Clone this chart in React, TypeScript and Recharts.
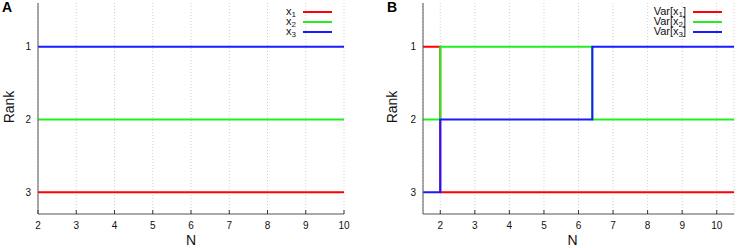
import React from 'react';
import { LineChart, Line, XAxis, YAxis, CartesianGrid } from 'recharts';

// Panel A: ranks of the means
const nA = [2, 10];
const rankX1 = [3, 3];
const rankX2 = [2, 2];
const rankX3 = [1, 1];

// Panel B: ranks of the variances
const nB = [1.5, 2, 6.4, 10.5];
const rankVarX1 = [1, 3, 3, 3];
const rankVarX2 = [2, 1, 2, 2];
const rankVarX3 = [3, 2, 1, 1];

const nTicks = [2, 3, 4, 5, 6, 7, 8, 9, 10];
const rankTicks = [1, 2, 3];
const seriesKeys = ['s1', 's2', 's3'];
const seriesColors = ['#ff0000', '#22ee22', '#1a1aff'];
const subscripts = ['1', '2', '3'];

const FONT = '"Liberation Sans", Arial, Helvetica, sans-serif';
const FRAME = '#555';

const rowsA = nA.map((n, i) => ({ n, s1: rankX1[i], s2: rankX2[i], s3: rankX3[i] }));
const rowsB = nB.map((n, i) => ({ n, s1: rankVarX1[i], s2: rankVarX2[i], s3: rankVarX3[i] }));

interface PanelProps {
  rows: any[];
  domain: [number, number];
  yWidth: number;
  right: number;
  rankX: number;
  nDx: number;
}

function Panel({ rows, domain, yWidth, right, rankX, nDx }: PanelProps) {
  return (
    <LineChart
      width={368}
      height={248}
      data={rows}
      margin={{ top: 3, right, bottom: 0, left: 0 }}
      style={{ fontFamily: FONT }}
    >
      <CartesianGrid horizontal={false} stroke="#d0d0d0" strokeDasharray="1 2" />
      <XAxis
        dataKey="n"
        type="number"
        domain={domain}
        ticks={nTicks}
        allowDataOverflow
        height={34}
        stroke={FRAME}
        tickSize={-4}
        tickMargin={12}
        tickLine={{ stroke: '#333' }}
        tick={{ fontSize: 10, fill: '#111', fontFamily: FONT }}
        label={{
          content: ({ viewBox }: any) => (
            <text
              x={viewBox.x + viewBox.width / 2 + nDx}
              y={viewBox.y + 31}
              textAnchor="middle"
              fontSize={14}
              fill="#111"
              fontFamily={FONT}
            >
              N
            </text>
          ),
        }}
      />
      <XAxis
        xAxisId="top"
        orientation="top"
        dataKey="n"
        type="number"
        domain={domain}
        ticks={nTicks}
        allowDataOverflow
        height={0}
        mirror
        tickSize={4}
        stroke={FRAME}
        tickLine={{ stroke: '#333' }}
        tickFormatter={() => ''}
      />
      <YAxis
        type="number"
        domain={[0.4, 3.3]}
        reversed
        ticks={rankTicks}
        allowDataOverflow
        width={yWidth}
        stroke={FRAME}
        tickLine={false}
        tickSize={0}
        tickMargin={7}
        tick={{ fontSize: 10, fill: '#111', fontFamily: FONT }}
        label={{
          content: ({ viewBox }: any) => (
            <text
              x={rankX}
              y={viewBox.y + 104}
              transform={`rotate(-90, ${rankX}, ${viewBox.y + 104})`}
              textAnchor="middle"
              fontSize={14}
              fill="#111"
              fontFamily={FONT}
            >
              Rank
            </text>
          ),
        }}
      />
      <YAxis
        yAxisId="r"
        orientation="right"
        type="number"
        domain={[0.4, 3.3]}
        reversed
        width={0}
        stroke={FRAME}
        tick={false}
      />
      {seriesKeys.map((k, i) => (
        <Line
          key={k}
          dataKey={k}
          type="stepAfter"
          stroke={seriesColors[i]}
          strokeWidth={2}
          dot={false}
          isAnimationActive={false}
        />
      ))}
    </LineChart>
  );
}

function LegendOverlay({ prefix, suffix, textRight, lineX }: { prefix: string; suffix: string; textRight: number; lineX: number }) {
  const rowY = [12, 22, 32];
  return (
    <>
      {seriesColors.map((c, i) => (
        <React.Fragment key={c}>
          <div
            style={{
              position: 'absolute',
              right: 737 - textRight,
              top: rowY[i] - 5,
              fontSize: 11,
              lineHeight: '9px',
              height: 9,
              fontFamily: FONT,
              color: '#111',
              whiteSpace: 'nowrap',
            }}
          >
            {prefix}x
            <span style={{ fontSize: 8, lineHeight: '6px', position: 'relative', top: 2 }}>{subscripts[i]}</span>
            {suffix}
          </div>
          <div
            style={{
              position: 'absolute',
              left: lineX,
              top: rowY[i] - 1,
              width: 29,
              height: 2,
              background: c,
            }}
          />
        </React.Fragment>
      ))}
    </>
  );
}

export default function App() {
  return (
    <div style={{ position: 'absolute', left: 0, top: 0, width: 737, height: 248, background: '#fff' }}>
      <div style={{ position: 'absolute', left: 0, top: 0 }}>
        <Panel rows={rowsA} domain={[2, 10]} yWidth={38} right={24} rankX={14} nDx={0} />
      </div>
      <div style={{ position: 'absolute', left: 369, top: 0 }}>
        <Panel rows={rowsB} domain={[1.5, 10.5]} yWidth={54} right={3} rankX={28} nDx={-6} />
      </div>
      <div style={{ position: 'absolute', left: 2, top: 0, fontSize: 14, lineHeight: '14px', fontWeight: 'bold', fontFamily: FONT }}>A</div>
      <div style={{ position: 'absolute', left: 387, top: 0, fontSize: 14, lineHeight: '14px', fontWeight: 'bold', fontFamily: FONT }}>B</div>
      <LegendOverlay prefix="" suffix="" textRight={296} lineX={303} />
      <LegendOverlay prefix="Var[" suffix="]" textRight={686} lineX={693} />
    </div>
  );
}
